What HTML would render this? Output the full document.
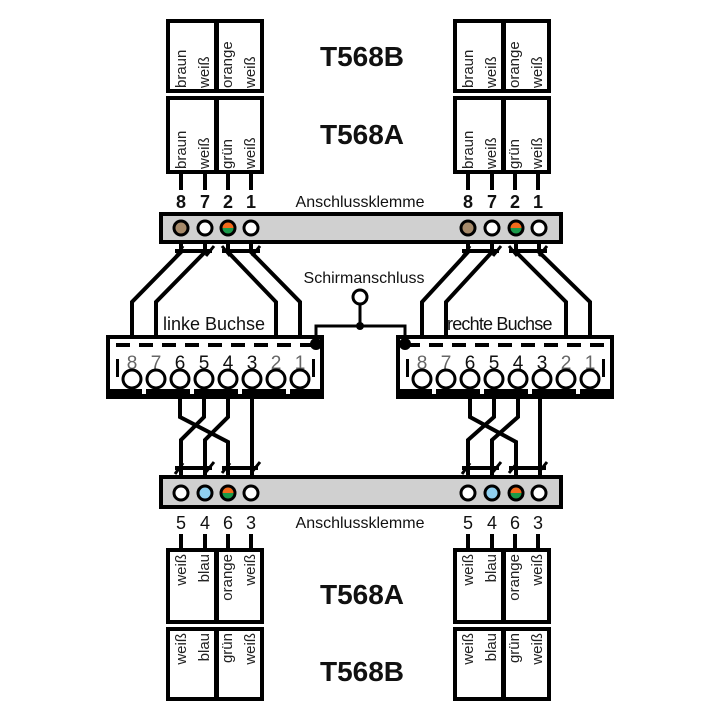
<!DOCTYPE html>
<html><head><meta charset="utf-8"><style>
html,body{margin:0;padding:0;background:#fff;width:720px;height:720px;overflow:hidden}
svg{display:block}
text{font-family:"Liberation Sans","DejaVu Sans",sans-serif}
</style></head><body>
<svg width="720" height="720" viewBox="0 0 720 720" xmlns="http://www.w3.org/2000/svg">
<defs>
<g id="topB">
 <rect x="0" y="0" width="94" height="70" fill="#fff" stroke="#000" stroke-width="4"/>
 <rect x="46" y="0" width="5" height="70" fill="#000"/>
 <g font-size="15" fill="#222">
  <text transform="translate(18,67) rotate(-90)">braun</text>
  <text transform="translate(41,67) rotate(-90)">weiß</text>
  <text transform="translate(64,67) rotate(-90)">orange</text>
  <text transform="translate(87,67) rotate(-90)">weiß</text>
 </g>
</g>
<g id="topA">
 <rect x="0" y="0" width="94" height="74" fill="#fff" stroke="#000" stroke-width="4"/>
 <rect x="46" y="0" width="5" height="74" fill="#000"/>
 <g font-size="15" fill="#222">
  <text transform="translate(18,71) rotate(-90)">braun</text>
  <text transform="translate(41,71) rotate(-90)">weiß</text>
  <text transform="translate(64,71) rotate(-90)">grün</text>
  <text transform="translate(87,71) rotate(-90)">weiß</text>
 </g>
 <g stroke="#000" stroke-width="4">
  <line x1="13" y1="74" x2="13" y2="92"/><line x1="37" y1="74" x2="37" y2="92"/>
  <line x1="60" y1="74" x2="60" y2="92"/><line x1="83" y1="74" x2="83" y2="92"/>
 </g>
 <g font-size="18" font-weight="bold" text-anchor="middle" fill="#111">
  <text x="13" y="110">8</text><text x="37" y="110">7</text><text x="60" y="110">2</text><text x="83" y="110">1</text>
 </g>
</g>
<g id="botA">
 <g font-size="18" text-anchor="middle" fill="#111">
  <text x="13" y="-21">5</text><text x="37" y="-21">4</text><text x="60" y="-21">6</text><text x="83" y="-21">3</text>
 </g>
 <g stroke="#000" stroke-width="4">
  <line x1="13" y1="-16" x2="13" y2="0"/><line x1="37" y1="-16" x2="37" y2="0"/>
  <line x1="60" y1="-16" x2="60" y2="0"/><line x1="83" y1="-16" x2="83" y2="0"/>
 </g>
 <rect x="0" y="0" width="94" height="72" fill="#fff" stroke="#000" stroke-width="4"/>
 <rect x="46" y="0" width="5" height="72" fill="#000"/>
 <g font-size="15" fill="#222" text-anchor="end">
  <text transform="translate(18,4) rotate(-90)">weiß</text>
  <text transform="translate(41,4) rotate(-90)">blau</text>
  <text transform="translate(64,4) rotate(-90)">orange</text>
  <text transform="translate(87,4) rotate(-90)">weiß</text>
 </g>
</g>
<g id="botB">
 <rect x="0" y="0" width="94" height="70" fill="#fff" stroke="#000" stroke-width="4"/>
 <rect x="46" y="0" width="5" height="70" fill="#000"/>
 <g font-size="15" fill="#222" text-anchor="end">
  <text transform="translate(18,4) rotate(-90)">weiß</text>
  <text transform="translate(41,4) rotate(-90)">blau</text>
  <text transform="translate(64,4) rotate(-90)">grün</text>
  <text transform="translate(87,4) rotate(-90)">weiß</text>
 </g>
</g>
<g id="oc">
 <circle r="7" fill="#fff"/>
 <path d="M-7 0 A7 7 0 0 1 7 0Z" fill="#f26a1b"/>
 <path d="M-7 0 A7 7 0 0 0 7 0Z" fill="#1a9a4a"/>
 <circle r="7" fill="none" stroke="#000" stroke-width="3"/>
</g>
<g id="jack">
 <rect x="0" y="0" width="214" height="60" fill="#fff" stroke="#000" stroke-width="4"/>
 <rect x="0" y="52" width="214" height="8" fill="#000"/>
 <g fill="#fff">
  <rect x="34" y="52" width="4" height="5"/><rect x="82" y="52" width="4" height="5"/>
  <rect x="130" y="52" width="4" height="5"/><rect x="178" y="52" width="4" height="5"/>
 </g>
 <line x1="8" y1="8" x2="210" y2="8" stroke="#000" stroke-width="4" stroke-dasharray="14 9"/>
 <rect x="8" y="22" width="3" height="18" fill="#000"/>
 <rect x="204" y="22" width="3" height="18" fill="#000"/>
 <g font-size="19" text-anchor="middle">
  <text x="24" y="32" fill="#666">8</text><text x="48" y="32" fill="#666">7</text>
  <text x="72" y="32" fill="#111">6</text><text x="96" y="32" fill="#111">5</text>
  <text x="120" y="32" fill="#111">4</text><text x="144" y="32" fill="#111">3</text>
  <text x="168" y="32" fill="#666">2</text><text x="192" y="32" fill="#666">1</text>
 </g>
 <g fill="#fff" stroke="#000" stroke-width="3">
  <circle cx="24" cy="42" r="9"/><circle cx="48" cy="42" r="9"/><circle cx="72" cy="42" r="9"/><circle cx="96" cy="42" r="9"/>
  <circle cx="120" cy="42" r="9"/><circle cx="144" cy="42" r="9"/><circle cx="168" cy="42" r="9"/><circle cx="192" cy="42" r="9"/>
 </g>
</g>
</defs>

<use href="#topB" x="168" y="21"/>
<use href="#topA" x="168" y="98"/>
<use href="#topB" x="455" y="21"/>
<use href="#topA" x="455" y="98"/>
<g font-size="28" font-weight="bold" text-anchor="middle" fill="#111">
 <text x="362" y="66">T568B</text>
 <text x="362" y="144">T568A</text>
 <text x="362" y="604">T568A</text>
 <text x="362" y="681">T568B</text>
</g>
<g font-size="16" text-anchor="middle" fill="#111">
 <text x="360" y="207">Anschlussklemme</text>
 <text x="360" y="528">Anschlussklemme</text>
 <text x="364" y="283">Schirmanschluss</text>
</g>

<g fill="none" stroke="#000" stroke-width="4">
 <path d="M181 236 V252 L132 302 V347"/>
 <path d="M205 236 V252 L156 302 V347"/>
 <path d="M228 236 V252 L276 302 V347"/>
 <path d="M251 236 V252 L300 302 V347"/>
 <path d="M175 251 H212 M222 251 H260"/>
 <path d="M468 236 V252 L422 302 V347"/>
 <path d="M492 236 V252 L446 302 V347"/>
 <path d="M516 236 V252 L566 302 V347"/>
 <path d="M539 236 V252 L590 302 V347"/>
 <path d="M462 251 H499 M509 251 H547"/>
</g>
<g stroke="#000" stroke-width="3">
 <line x1="175" y1="258" x2="183" y2="246"/><line x1="206" y1="256" x2="214" y2="246"/>
 <line x1="222" y1="246" x2="230" y2="256"/><line x1="252" y1="256" x2="260" y2="246"/>
 <line x1="462" y1="258" x2="470" y2="246"/><line x1="493" y1="256" x2="501" y2="246"/>
 <line x1="509" y1="246" x2="517" y2="256"/><line x1="539" y1="256" x2="547" y2="246"/>
</g>

<rect x="161" y="214" width="400" height="28" fill="#d0d0d0" stroke="#000" stroke-width="4"/>
<g stroke="#000" stroke-width="3">
 <circle cx="181" cy="228" r="7" fill="#a68a6a"/>
 <circle cx="205" cy="228" r="7" fill="#fff"/>
 <circle cx="251" cy="228" r="7" fill="#fff"/>
 <circle cx="468" cy="228" r="7" fill="#a68a6a"/>
 <circle cx="492" cy="228" r="7" fill="#fff"/>
 <circle cx="539" cy="228" r="7" fill="#fff"/>
</g>
<use href="#oc" x="228" y="228"/>
<use href="#oc" x="516" y="228"/>

<g font-size="18" fill="#111">
 <text x="163" y="330">linke Buchse</text>
 <text x="447" y="330" letter-spacing="-0.8">rechte Buchse</text>
</g>
<use href="#jack" x="108" y="337"/>
<use href="#jack" x="398" y="337"/>

<g fill="none" stroke="#000" stroke-width="3">
 <circle cx="360" cy="297" r="7" fill="#fff"/>
 <line x1="360" y1="304" x2="360" y2="326"/>
 <path d="M316 344 V326 H405 V344"/>
</g>
<circle cx="360" cy="326" r="4" fill="#000"/>
<circle cx="316" cy="344" r="6" fill="#000"/>
<circle cx="405" cy="344" r="6" fill="#000"/>

<g fill="none" stroke="#000" stroke-width="4">
 <path d="M180 397 V417 L228 442 V490"/>
 <path d="M204 397 V417 L181 440 V490"/>
 <path d="M228 397 V417 L205 440 V490"/>
 <path d="M252 397 V490"/>
 <path d="M175 468 H212 M222 468 H258"/>
 <path d="M470 397 V417 L516 442 V490"/>
 <path d="M494 397 V417 L468 440 V490"/>
 <path d="M518 397 V417 L492 440 V490"/>
 <path d="M540 397 V490"/>
 <path d="M462 468 H499 M509 468 H546"/>
</g>
<g stroke="#000" stroke-width="3">
 <line x1="175" y1="474" x2="183" y2="463"/><line x1="206" y1="472" x2="214" y2="462"/>
 <line x1="222" y1="473" x2="230" y2="463"/><line x1="252" y1="472" x2="260" y2="462"/>
 <line x1="462" y1="474" x2="470" y2="463"/><line x1="493" y1="472" x2="501" y2="462"/>
 <line x1="509" y1="473" x2="517" y2="463"/><line x1="539" y1="472" x2="547" y2="462"/>
</g>

<rect x="161" y="477" width="400" height="30" fill="#d0d0d0" stroke="#000" stroke-width="4"/>
<g stroke="#000" stroke-width="3">
 <circle cx="181" cy="493" r="7" fill="#fff"/>
 <circle cx="205" cy="493" r="7" fill="#8fd0f0"/>
 <circle cx="251" cy="493" r="7" fill="#fff"/>
 <circle cx="468" cy="493" r="7" fill="#fff"/>
 <circle cx="492" cy="493" r="7" fill="#8fd0f0"/>
 <circle cx="539" cy="493" r="7" fill="#fff"/>
</g>
<use href="#oc" x="228" y="493"/>
<use href="#oc" x="516" y="493"/>

<use href="#botA" x="168" y="550"/>
<use href="#botB" x="168" y="629"/>
<use href="#botA" x="455" y="550"/>
<use href="#botB" x="455" y="629"/>
</svg>
</body></html>
